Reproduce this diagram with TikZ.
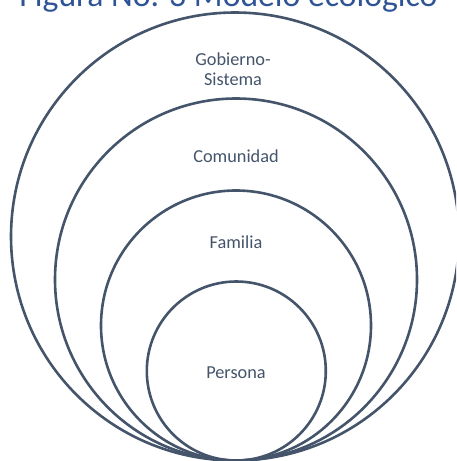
\documentclass[tikz,border=0pt]{standalone}
\usepackage{fontspec}
\setmainfont{Carlito}
\usetikzlibrary{math}
\definecolor{ringgray}{HTML}{44546A}
\definecolor{titleblue}{HTML}{2F5496}

\begin{document}
\begin{tikzpicture}[x=1pt, y=-1pt,
    ring/.style={draw=ringgray, line width=2.6pt},
    lbl/.style={text=ringgray, font=\fontsize{18.3}{19.3}\selectfont, inner sep=0pt, anchor=base, align=center}]
  \tikzmath{\b = 460.5;}

  \useasboundingbox (0, 0) rectangle (456, 461);
  \clip (0, 0) rectangle (456, 461);

  % title, cut off by the top edge
  \node[text=titleblue, font=\fontsize{33.7}{40}\selectfont, inner sep=0pt, anchor=base] (title) at (228.5, 6) {Figura No. 3 Modelo ecológico};

  % rings, all touching at the bottom
  \draw[ring] (235, \b-224) circle (224pt);
  \draw[ring] (236, \b-181) circle (181pt);
  \draw[ring] (236, \b-135) circle (135pt);
  \draw[ring] (236.3, \b-89.5) circle (89.5pt);

  % labels
  \node[lbl] (gobierno) at (233, 85) {Gobierno-\\Sistema};
  \node[lbl] (comunidad) at (236, 162.3) {Comunidad};
  \node[lbl] (familia) at (236, 248.3) {Familia};
  \node[lbl] (persona) at (236, 378.3) {Persona};

\end{tikzpicture}
\end{document}
